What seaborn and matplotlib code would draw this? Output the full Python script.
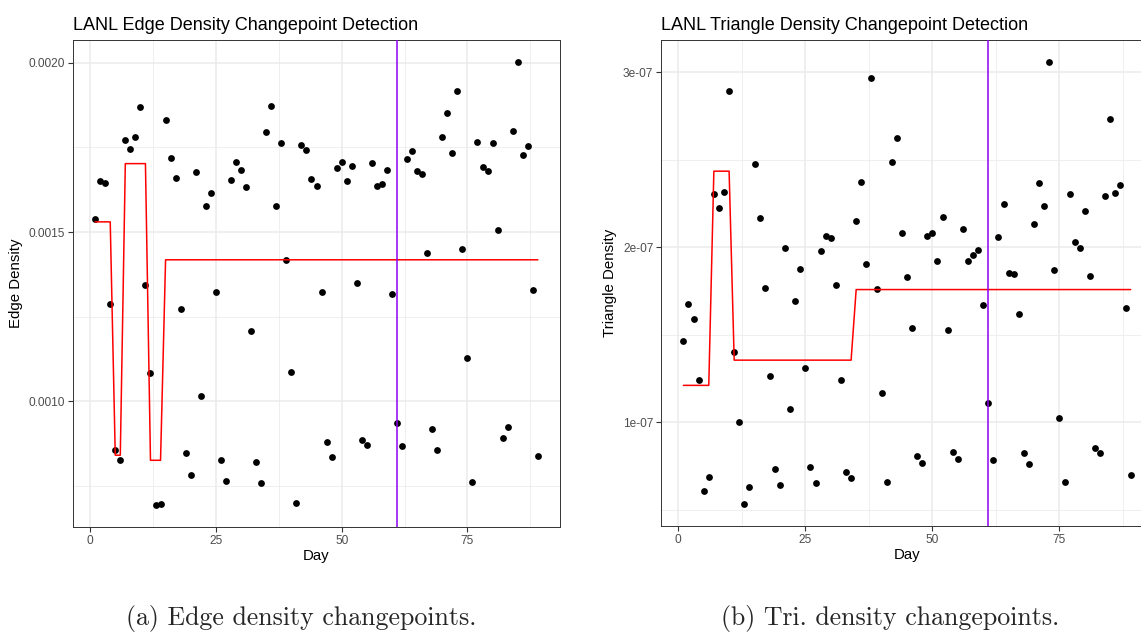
import matplotlib
matplotlib.use("Agg")
import matplotlib.pyplot as plt
import seaborn as sns
import pandas as pd

# ---------------- data ----------------
days = list(range(1, 90))

edge_density = [
    0.001538, 0.001650, 0.001644, 0.001287, 0.000855, 0.000828, 0.001773, 0.001744, 0.001782, 0.001869,
    0.001344, 0.001085, 0.000694, 0.000698, 0.001830, 0.001720, 0.001659, 0.001272, 0.000847, 0.000784,
    0.001677, 0.001017, 0.001578, 0.001616, 0.001322, 0.000828, 0.000766, 0.001654, 0.001706, 0.001684,
    0.001633, 0.001209, 0.000821, 0.000760, 0.001794, 0.001873, 0.001578, 0.001764, 0.001418, 0.001088,
    0.000701, 0.001758, 0.001742, 0.001657, 0.001636, 0.001324, 0.000880, 0.000835, 0.001689, 0.001707,
    0.001650, 0.001695, 0.001349, 0.000886, 0.000872, 0.001705, 0.001636, 0.001641, 0.001682, 0.001316,
    0.000936, 0.000867, 0.001715, 0.001738, 0.001680, 0.001670, 0.001439, 0.000918, 0.000855, 0.001782,
    0.001852, 0.001734, 0.001916, 0.001451, 0.001129, 0.000763, 0.001767, 0.001691, 0.001679, 0.001762,
    0.001506, 0.000892, 0.000925, 0.001798, 0.002002, 0.001727, 0.001754, 0.001328, 0.000839,
]

tri_density = [
    1.464e-7, 1.676e-7, 1.588e-7, 1.241e-7, 0.610e-7, 0.688e-7, 2.305e-7, 2.224e-7, 2.316e-7, 2.892e-7,
    1.403e-7, 1.004e-7, 0.534e-7, 0.633e-7, 2.477e-7, 2.165e-7, 1.767e-7, 1.265e-7, 0.733e-7, 0.644e-7,
    1.993e-7, 1.074e-7, 1.691e-7, 1.875e-7, 1.309e-7, 0.743e-7, 0.656e-7, 1.981e-7, 2.062e-7, 2.051e-7,
    1.786e-7, 1.241e-7, 0.716e-7, 0.684e-7, 2.150e-7, 2.373e-7, 1.902e-7, 2.964e-7, 1.760e-7, 1.170e-7,
    0.661e-7, 2.487e-7, 2.622e-7, 2.080e-7, 1.831e-7, 1.538e-7, 0.805e-7, 0.769e-7, 2.065e-7, 2.082e-7,
    1.923e-7, 2.174e-7, 1.525e-7, 0.830e-7, 0.792e-7, 2.101e-7, 1.920e-7, 1.953e-7, 1.983e-7, 1.669e-7,
    1.112e-7, 0.784e-7, 2.061e-7, 2.247e-7, 1.855e-7, 1.847e-7, 1.616e-7, 0.822e-7, 0.764e-7, 2.135e-7,
    2.364e-7, 2.233e-7, 3.057e-7, 1.868e-7, 1.025e-7, 0.659e-7, 2.305e-7, 2.031e-7, 1.993e-7, 2.205e-7,
    1.835e-7, 0.851e-7, 0.824e-7, 2.292e-7, 2.730e-7, 2.307e-7, 2.356e-7, 1.650e-7, 0.697e-7,
]

# changepoint segments (start day, end day, segment level)
edge_seg_start = [1, 5, 7, 12, 15]
edge_seg_end = [4, 6, 11, 14, 89]
edge_seg_level = [0.001530, 0.000841, 0.001702, 0.000826, 0.001418]

tri_seg_start = [1, 7, 11, 35]
tri_seg_end = [6, 10, 34, 89]
tri_seg_level = [1.211e-7, 2.434e-7, 1.355e-7, 1.758e-7]

changepoint_day = 61

x_ticks = [0, 25, 50, 75]
x_tick_labels = ["0", "25", "50", "75"]
edge_y_ticks = [0.0010, 0.0015, 0.0020]
edge_y_tick_labels = ["0.0010", "0.0015", "0.0020"]
tri_y_ticks = [1e-7, 2e-7, 3e-7]
tri_y_tick_labels = ["1e-07", "2e-07", "3e-07"]

titles = ["LANL Edge Density Changepoint Detection", "LANL Triangle Density Changepoint Detection"]
y_labels = ["Edge Density", "Triangle Density"]
captions = ["(a) Edge density changepoints.", "(b) Tri. density changepoints."]


def seg_series(starts, ends, levels):
    out = []
    for d in days:
        for s, e, l in zip(starts, ends, levels):
            if s <= d <= e:
                out.append(l)
                break
    return out


edge_df = pd.DataFrame({"Day": days, "value": edge_density,
                        "fit": seg_series(edge_seg_start, edge_seg_end, edge_seg_level)})
tri_df = pd.DataFrame({"Day": days, "value": tri_density,
                       "fit": seg_series(tri_seg_start, tri_seg_end, tri_seg_level)})

# ---------------- style ----------------
sns.set_theme(style="white")
plt.rcParams["font.family"] = ["Liberation Sans", "DejaVu Sans"]

W, H = 1141, 633
fig = plt.figure(figsize=(W / 100, H / 100), dpi=100)


def px_axes(l, t, r, b):
    return fig.add_axes([l / W, 1 - b / H, (r - l) / W, (b - t) / H])


ax1 = px_axes(73, 40, 560, 527)
ax2 = px_axes(661, 40, 1153, 526)

GRID = "#EBEBEB"
DARK = "#333333"
TICKC = "#4D4D4D"
PURPLE = "#8E00F5"

panels = [
    (ax1, edge_df, edge_y_ticks, edge_y_tick_labels, (0.000629, 0.002067)),
    (ax2, tri_df, tri_y_ticks, tri_y_tick_labels, (0.408e-7, 3.183e-7)),
]

for i, (ax, df, yt, ytl, ylim) in enumerate(panels):
    ax.set_facecolor("white")
    ax.set_xlim(-3.4, 93.4)
    ax.set_ylim(*ylim)
    # minor grid
    for xm in [12.5, 37.5, 62.5, 87.5]:
        ax.axvline(xm, color=GRID, lw=0.55, zorder=0)
    step = yt[1] - yt[0]
    for k in range(-1, len(yt)):
        ym = yt[0] + (k + 0.5) * step
        ax.axhline(ym, color=GRID, lw=0.55, zorder=0)
    for xv in x_ticks:
        ax.axvline(xv, color=GRID, lw=1.1, zorder=0)
    for yv in yt:
        ax.axhline(yv, color=GRID, lw=1.1, zorder=0)

    sns.scatterplot(data=df, x="Day", y="value", color="black", s=24,
                    linewidth=0, ax=ax, zorder=3)
    sns.lineplot(data=df, x="Day", y="fit", color="#FF0000", linewidth=1.1,
                 estimator=None, ax=ax, zorder=4)
    ax.axvline(changepoint_day, color=PURPLE, lw=1.1, zorder=5)

    ax.set_xticks(x_ticks)
    ax.set_xticklabels(x_tick_labels)
    ax.set_yticks(yt)
    ax.set_yticklabels(ytl)
    ax.tick_params(axis="both", which="major", length=3.5, width=0.8, color=DARK,
                   labelsize=8.6, labelcolor=TICKC, pad=2, bottom=True, left=True)
    for sp in ax.spines.values():
        sp.set_visible(True)
        sp.set_color(DARK)
        sp.set_linewidth(0.7)
    ax.set_xlabel("Day", fontsize=10.8, color="black", labelpad=2)
    ax.set_ylabel(y_labels[i], fontsize=10.8, color="black", labelpad=4)
    ax.set_title(titles[i], loc="left", fontsize=13, color="black", pad=7)
    ax.grid(False)

fig.text(301 / W, 1 - 619 / H, captions[0], ha="center", va="center",
         fontsize=18.6, family="cmr10")
fig.text(890 / W, 1 - 619 / H, captions[1], ha="center", va="center",
         fontsize=18.6, family="cmr10")

fig.savefig("out.png", dpi=100, facecolor="white")
